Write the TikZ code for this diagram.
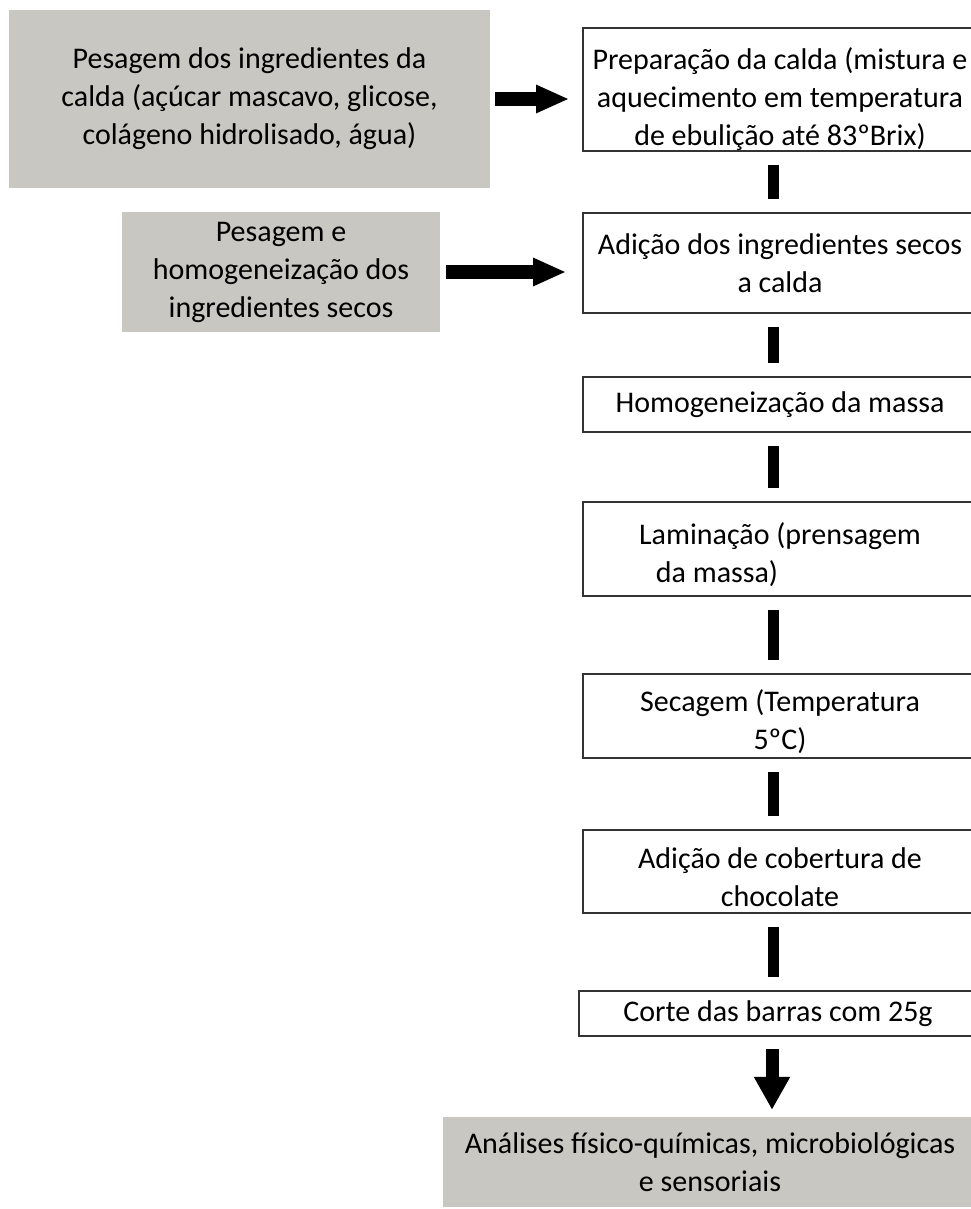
\documentclass[tikz,border=0pt]{standalone}
\usepackage{fontspec}
\setmainfont{Carlito}
\usetikzlibrary{arrows.meta,calc}
\definecolor{PanelGray}{HTML}{C8C7C1}
\definecolor{StepLine}{HTML}{333333}

\begin{document}
\begin{tikzpicture}[x=1pt,y=-1pt]
  \tikzset{
    stepbox/.style={draw=StepLine,line width=1.6pt,fill=white,inner sep=0pt,minimum width=394pt,align=center,font=\fontsize{30}{38}\selectfont},
    inputbox/.style={fill=PanelGray,inner sep=0pt,align=center,font=\fontsize{30}{38}\selectfont},
    barline/.style={line width=11pt,shorten <=13pt,shorten >=13pt},
    fatarrow/.style={line width=14pt,-{Triangle[length=33pt,width=26pt]}}
  }
  \useasboundingbox (0,0) rectangle (970,1209);

  % inputs on the left
  \node[inputbox,minimum width=481pt,minimum height=178pt] (pescalda) at (249.5,99) {Pesagem dos ingredientes da\\calda (açúcar mascavo, glicose,\\colágeno hidrolisado, água)};
  \node[inputbox,minimum width=318pt,minimum height=120pt] (pessecos) at (281,272) {Pesagem e\\homogeneização dos\\ingredientes secos};

  % main steps
  \node[stepbox,minimum height=123pt] (prep) at (780,89.5) {\rule{0pt}{41pt}Preparação da calda (mistura e\\aquecimento em temperatura\\de ebulição até 83ºBrix)};
  \node[stepbox,minimum height=100pt] (adic) at (780,263) {Adição dos ingredientes secos\\a calda};
  \node[stepbox,minimum height=55pt] (homog) at (780,404.5) {Homogeneização da massa};
  \node[stepbox,minimum height=94pt] (lamin) at (780,549) {\rule{0pt}{34pt}Laminação (prensagem\\da massa)\hspace*{126pt}};
  \node[stepbox,minimum height=84pt] (secag) at (780,716) {\rule{0pt}{33pt}Secagem (Temperatura\\5ºC)};
  \node[stepbox,minimum height=83pt] (cobert) at (780,871.5) {\rule{0pt}{33pt}Adição de cobertura de\\chocolate};
  \node[stepbox,minimum width=398pt,minimum height=45pt] (corte) at (778,1013.5) {Corte das barras com 25g};
  \node[inputbox,minimum width=534pt,minimum height=90pt] (anal) at (710,1162) {Análises físico-químicas, microbiológicas\\e sensoriais};

  % connectors
  \draw[fatarrow,shorten <=5pt,shorten >=13pt] (pescalda.east) -- (pescalda.east -| prep.west);
  \draw[fatarrow,shorten <=6pt,shorten >=16pt] (pessecos.east) -- (pessecos.east -| adic.west);
  \foreach \a/\b in {prep/adic,adic/homog,homog/lamin,lamin/secag,secag/cobert,cobert/corte}
    \draw[barline] ($(\a.south)+(-6.5,0)$) -- ($(\a.south |- \b.north)+(-6.5,0)$);
  \draw[fatarrow,line width=13pt,-{Triangle[length=33pt,width=34pt]},shorten <=12pt,shorten >=7pt] ($(corte.south)+(-6,0)$) -- ($(corte.south |- anal.north)+(-6,0)$);
\end{tikzpicture}
\end{document}
